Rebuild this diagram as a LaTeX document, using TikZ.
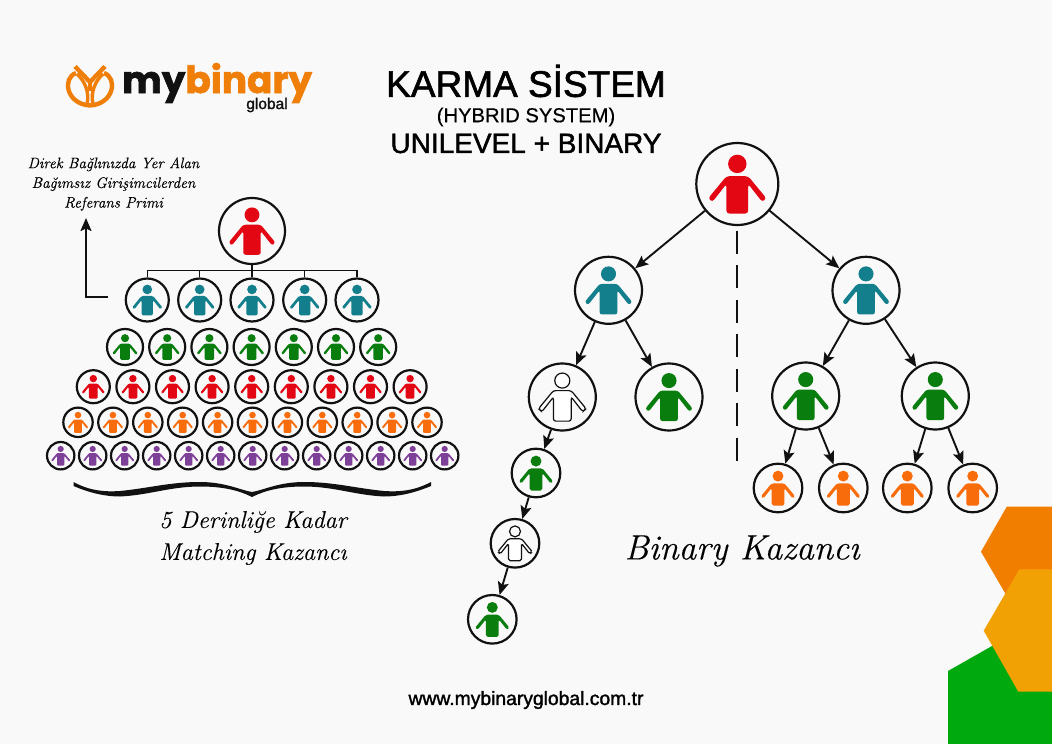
\documentclass[tikz,border=0pt]{standalone}
\usepackage{fontspec}
\usepackage{xcolor}
\usetikzlibrary{arrows.meta,calc}
\setmainfont{Latin Modern Roman}[ItalicFeatures={FakeBold=0.25}]
\setsansfont{Liberation Sans}
\newfontfamily\logofont[BoldFeatures={FakeBold=1.8}]{Poppins}
\newfontfamily\titlefont[FakeBold=1.6]{Liberation Sans}
\newfontfamily\subfont[FakeBold=0.5]{Liberation Sans}
\definecolor{paper}{HTML}{F9F9F9}
\definecolor{ink}{HTML}{111111}
\definecolor{brand}{HTML}{F07F09}
\definecolor{pred}{HTML}{E30613}
\definecolor{pteal}{HTML}{137F8C}
\definecolor{pgreen}{HTML}{0A7D0F}
\definecolor{porange}{HTML}{F96C0C}
\definecolor{ppurple}{HTML}{7E3F98}
\definecolor{hexorange}{HTML}{F27E00}
\definecolor{hexyellow}{HTML}{F2A105}
\definecolor{hexgreen}{HTML}{00A90D}
\tikzset{
  personring/.style={circle,draw=ink,fill=none,line width=2.2pt,inner sep=0pt},
  arr/.style={-{Stealth[length=13pt,width=11pt,inset=2.5pt]},draw=ink,line width=1.9pt},
  chartline/.style={draw=ink,line width=1.5pt},
  splitline/.style={draw=ink,line width=1.9pt,dash pattern=on 23pt off 11.5pt},
  lab/.style={font=\itshape\fontsize{15.2}{19.7}\selectfont,align=center,text=black},
  hollow/.style={draw=ink,fill=white,line width=1.2pt},
  logostroke/.style={draw=brand,line width=4.4pt,line cap=butt,line join=miter},
  personfig/.pic={
    \path[pic actions] (0,-.49) circle (.225);
    \path[pic actions,rounded corners=\personrc]
      (-.265,-.19) -- (.265,-.19) -- (.71,.35) -- (.61,.44) -- (.265,0) -- (.265,.72)
      -- (-.265,.72) -- (-.265,0) -- (-.61,.44) -- (-.71,.35) -- cycle;
  },
}
\newcommand{\personnode}[5]{
  \pgfmathsetlengthmacro{\personrc}{.07*#4pt}
  \node[personring,minimum size={2*#4pt}] (#1) at ({#2},{#3}) {};
  \pic[scale=#4,#5] at (#1) {personfig};
}
\begin{document}
\begin{tikzpicture}[x=1pt,y=-1pt]
  \fill[paper] (0,0) rectangle (1052,744);
  \useasboundingbox (0,0) rectangle (1052,744);
  % corner shapes
  \fill[hexgreen] (948,671) -- (992,646) -- (1052,646) -- (1052,744) -- (948,744) -- cycle;
  \fill[hexorange] (1006.7,506.7) -- (1052,506.7) -- (1052,617) -- (1019,617) -- (981,551.7) -- cycle;
  \fill[hexyellow] (1019.3,569.3) -- (1052,569.3) -- (1052,691.7) -- (1018.3,691.7) -- (983.7,630.7) -- cycle;
  % logo
  \draw[logostroke] (75,66.5) -- (90,82) -- (105,66.5);
  \draw[logostroke] (90,80) -- (90,91);
  \draw[logostroke] (76,73) .. controls (62,78) and (66,104) .. (90,105.5) .. controls (114,104) and (118,78) .. (104,73);
  \draw[logostroke,line width=3.4pt] (77,74) .. controls (84,80) and (90,92) .. (87,104);
  \draw[logostroke,line width=3.4pt] (103,74) .. controls (96,80) and (90,92) .. (93,104);
  \node[anchor=base west,inner sep=0pt,text depth=0pt,font=\logofont\bfseries\fontsize{37.4}{37.4}\selectfont] (logo) at (122,93) {\textcolor{ink}{my}\textcolor{brand}{binary}};
  \node[inner sep=0pt,font=\titlefont\fontsize{15.5}{15.5}\selectfont,text=ink] (logosub) at (267,105) {global};
  % titles
  \node[inner sep=0pt,font=\titlefont\fontsize{37}{37}\selectfont,text=black] (title) at (526,81) {KARMA SİSTEM};
  \node[inner sep=0pt,font=\subfont\fontsize{20.2}{20.2}\selectfont,text=black] (subtitle) at (526,117) {(HYBRID SYSTEM)};
  \node[inner sep=0pt,font=\titlefont\fontsize{28}{28}\selectfont,text=black] (mix) at (526,143.5) {UNILEVEL + BINARY};
  \node[inner sep=0pt,font=\titlefont\fontsize{19.3}{19.3}\selectfont,text=black] (web) at (526,700) {www.mybinaryglobal.com.tr};
  % unilevel side
  \personnode{root}{252}{231}{33}{fill=pred}
  \personnode{a1}{147.3}{300}{21.5}{fill=pteal}
  \personnode{a2}{199.7}{300}{21.5}{fill=pteal}
  \personnode{a3}{252}{300}{21.5}{fill=pteal}
  \personnode{a4}{304.7}{300}{21.5}{fill=pteal}
  \personnode{a5}{357}{300}{21.5}{fill=pteal}
  \foreach \i in {0,...,6} {\personnode{b\i}{125+42.2*\i}{347}{18}{fill=pgreen}}
  \foreach \i in {0,...,8} {\personnode{c\i}{93.3+39.6*\i}{386.7}{16.5}{fill=pred}}
  \foreach \i in {0,...,10} {\personnode{d\i}{78+34.9*\i}{422.3}{14.7}{fill=porange}}
  \foreach \i in {0,...,12} {\personnode{e\i}{60.7+32*\i}{455.7}{13.7}{fill=ppurple}}
  \coordinate (bus) at (252,270.5);
  \foreach \i in {1,...,5} \draw[chartline] (root.south) -- (bus) -| (a\i.north);
  \coordinate (refstart) at (108,297);
  \coordinate (refend) at (86,218);
  \draw[arr] (refstart) -| (refend);
  \node[lab] (reflab) at (113.5,184) {Direk Bağlınızda Yer Alan\\Bağımsız Girişimcilerden\\Referans Primi};
  \fill[ink] (73.5,482) .. controls (90,491) and (105,492) .. (120,491) .. controls (150,488) and (170,482) .. (200,482)
    .. controls (225,482) and (240,490) .. (252,492) .. controls (264,490) and (279,482) .. (304,482)
    .. controls (334,482) and (354,488) .. (384,491) .. controls (399,492) and (414,491) .. (431,482)
    -- (431,486) .. controls (414,493) and (399,496.5) .. (384,496.5) .. controls (354,495) and (334,486.5) .. (304,486.5)
    .. controls (279,486.5) and (264,491) .. (252,497) .. controls (240,491) and (225,486.5) .. (200,486.5)
    .. controls (170,486.5) and (150,495) .. (120,496.5) .. controls (105,496.5) and (90,493) .. (73.5,486) -- cycle;
  \node[lab,font=\itshape\fontsize{24.3}{32}\selectfont] (matchlab) at (253,538) {5 Derinliğe Kadar\\Matching Kazancı};
  % binary side
  \personnode{top}{737.3}{184}{41}{fill=pred}
  \personnode{left}{608.5}{290.3}{33.5}{fill=pteal}
  \personnode{right}{866}{290.3}{33.5}{fill=pteal}
  \personnode{ll}{562.3}{397}{33.5}{hollow}
  \personnode{lr}{669}{397}{33.5}{fill=pgreen}
  \personnode{rl}{805.7}{396}{33.5}{fill=pgreen}
  \personnode{rr}{935.3}{396}{33.5}{fill=pgreen}
  \personnode{lla}{536}{473}{24.3}{fill=pgreen}
  \personnode{llb}{515}{543.3}{24.3}{hollow}
  \personnode{llc}{492.3}{619.3}{24.3}{fill=pgreen}
  \personnode{rla}{778}{488}{24.3}{fill=porange}
  \personnode{rlb}{843.3}{488}{24.3}{fill=porange}
  \personnode{rra}{907.3}{488}{24.3}{fill=porange}
  \personnode{rrb}{972.7}{488}{24.3}{fill=porange}
  \draw[arr] (top) -- (left);
  \draw[arr] (top) -- (right);
  \draw[arr] (left) -- (ll);
  \draw[arr] (left) -- (lr);
  \draw[arr] (right) -- (rl);
  \draw[arr] (right) -- (rr);
  \draw[arr] (ll) -- (lla);
  \draw[arr] (lla) -- (llb);
  \draw[arr] (llb) -- (llc);
  \draw[arr] (rl) -- (rla);
  \draw[arr] (rl) -- (rlb);
  \draw[arr] (rr) -- (rra);
  \draw[arr] (rr) -- (rrb);
  \coordinate (splittop) at (737.3,230.5);
  \coordinate (splitend) at (737.3,462);
  \draw[splitline] (splittop) -- (splitend);
  \node[lab,font=\itshape\fontsize{35.2}{36}\selectfont] (binlab) at (742,551) {Binary Kazancı};
\end{tikzpicture}
\end{document}
